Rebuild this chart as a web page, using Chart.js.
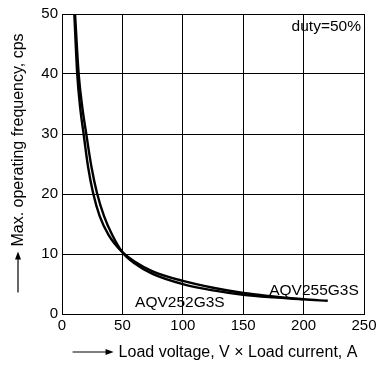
<!DOCTYPE html>
<html>
<head>
<meta charset="utf-8">
<script src="https://cdn.jsdelivr.net/npm/chart.js@4/dist/chart.umd.min.js"></script>
<style>
html,body{margin:0;padding:0;background:#fff;}
#wrap{width:376px;height:367px;position:relative;}
</style>
</head>
<body>
<div id="wrap"><canvas id="c" width="376" height="367"></canvas></div>
<script>
// ---- data ----
const seriesNames = ['AQV255G3S', 'AQV252G3S'];
const aqv255X = [10.2, 12.6, 15.1, 17.9, 21.6, 25.7, 31.2, 38.5, 50, 60, 75, 100, 125, 150, 175, 200, 220];
const aqv255Y = [50, 40, 34.3, 30, 24.5, 20.2, 16.3, 13.2, 10.3, 8.75, 7.12, 5.52, 4.37, 3.5, 2.93, 2.45, 2.2];
const aqv252X = [10.8, 13.8, 16.9, 20.1, 24.4, 28.9, 34.8, 41.5, 50, 60, 75, 100, 125, 150, 175, 200];
const aqv252Y = [50, 40, 34.3, 30, 24.5, 20.2, 16.3, 13.2, 10.3, 8.45, 6.68, 4.98, 3.93, 3.2, 2.77, 2.45];
const xTickValues = [0, 50, 100, 150, 200, 250];
const yTickValues = [0, 10, 20, 30, 40, 50];
const xTitle = 'Load voltage, V \u00d7 Load current, A';
const yTitle = 'Max. operating frequency, cps';
const noteText = 'duty=50%';

const FONT = '"Liberation Sans", Arial, Helvetica, sans-serif';
const toPts = (xs, ys) => xs.map((x, i) => ({x: x, y: ys[i]}));

const textPlugin = {
  id: 'texts',
  afterDraw(chart) {
    const ctx = chart.ctx;
    const ca = chart.chartArea;
    const xs = chart.scales.x, ys = chart.scales.y;
    ctx.save();
    ctx.fillStyle = '#000';
    ctx.strokeStyle = '#000';
    ctx.font = '15.5px ' + FONT;
    ctx.textBaseline = 'middle';
    ctx.textAlign = 'left';
    ctx.fillText(seriesNames[0], xs.getPixelForValue(171.5), ys.getPixelForValue(3.9));
    ctx.fillText(seriesNames[1], xs.getPixelForValue(60.5), ys.getPixelForValue(1.9));
    ctx.textAlign = 'right';
    ctx.fillText(noteText, xs.getPixelForValue(247.5), ys.getPixelForValue(47.9));
    // x title with arrow
    ctx.font = '16px ' + FONT;
    const arrowLen = 41, gap = 5;
    const tw = ctx.measureText(xTitle).width;
    const total = arrowLen + gap + tw;
    const cx = (ca.left + ca.right) / 2 + 2;
    const startX = cx - total / 2;
    const ty = 352;
    ctx.lineWidth = 1.2;
    ctx.beginPath();
    ctx.moveTo(startX, ty); ctx.lineTo(startX + arrowLen - 6, ty); ctx.stroke();
    ctx.beginPath();
    ctx.moveTo(startX + arrowLen, ty);
    ctx.lineTo(startX + arrowLen - 8, ty - 3);
    ctx.lineTo(startX + arrowLen - 8, ty + 3);
    ctx.closePath(); ctx.fill();
    ctx.textAlign = 'left';
    ctx.textBaseline = 'middle';
    ctx.fillText(xTitle, startX + arrowLen + gap, ty + 1);
    // y title with arrow (rotated)
    ctx.translate(18, 0);
    ctx.rotate(-Math.PI / 2);
    const tw2 = ctx.measureText(yTitle).width;
    const total2 = arrowLen + gap + tw2;
    const cy = 163;
    const start2 = -(cy + total2 / 2);
    ctx.beginPath();
    ctx.moveTo(start2, 0); ctx.lineTo(start2 + arrowLen - 6, 0); ctx.stroke();
    ctx.beginPath();
    ctx.moveTo(start2 + arrowLen, 0);
    ctx.lineTo(start2 + arrowLen - 8, -3);
    ctx.lineTo(start2 + arrowLen - 8, 3);
    ctx.closePath(); ctx.fill();
    ctx.fillText(yTitle, start2 + arrowLen + gap, 1);
    ctx.restore();
  }
};

const lineDs = (label, pts) => ({
  label: label,
  data: pts,
  borderColor: '#000',
  borderWidth: 2.4,
  pointRadius: 0,
  fill: false,
  cubicInterpolationMode: 'monotone'
});

new Chart(document.getElementById('c'), {
  type: 'line',
  data: {
    datasets: [
      lineDs(seriesNames[0], toPts(aqv255X, aqv255Y)),
      lineDs(seriesNames[1], toPts(aqv252X, aqv252Y))
    ]
  },
  options: {
    responsive: false,
    animation: false,
    devicePixelRatio: 1,
    layout: {padding: {top: 14, right: 12, left: 0, bottom: 0}},
    plugins: {legend: {display: false}, tooltip: {enabled: false}},
    scales: {
      x: {
        type: 'linear', min: 0, max: 250,
        afterBuildTicks: s => { s.ticks = xTickValues.map(v => ({value: v})); },
        afterFit: s => { s.height = 53; s.paddingRight = 0; s.paddingLeft = 0; },
        grid: {color: '#000', lineWidth: 1, drawTicks: false},
        border: {color: '#000', width: 1},
        ticks: {color: '#000', padding: 3, font: {family: FONT, size: 15}, maxRotation: 0}
      },
      y: {
        type: 'linear', min: 0, max: 50,
        afterBuildTicks: s => { s.ticks = yTickValues.map(v => ({value: v})); },
        afterFit: s => { s.width = 62; },
        grid: {color: '#000', lineWidth: 1, drawTicks: false},
        border: {color: '#000', width: 1},
        ticks: {color: '#000', padding: 4, font: {family: FONT, size: 15}}
      }
    }
  },
  plugins: [textPlugin]
});
</script>
</body>
</html>
